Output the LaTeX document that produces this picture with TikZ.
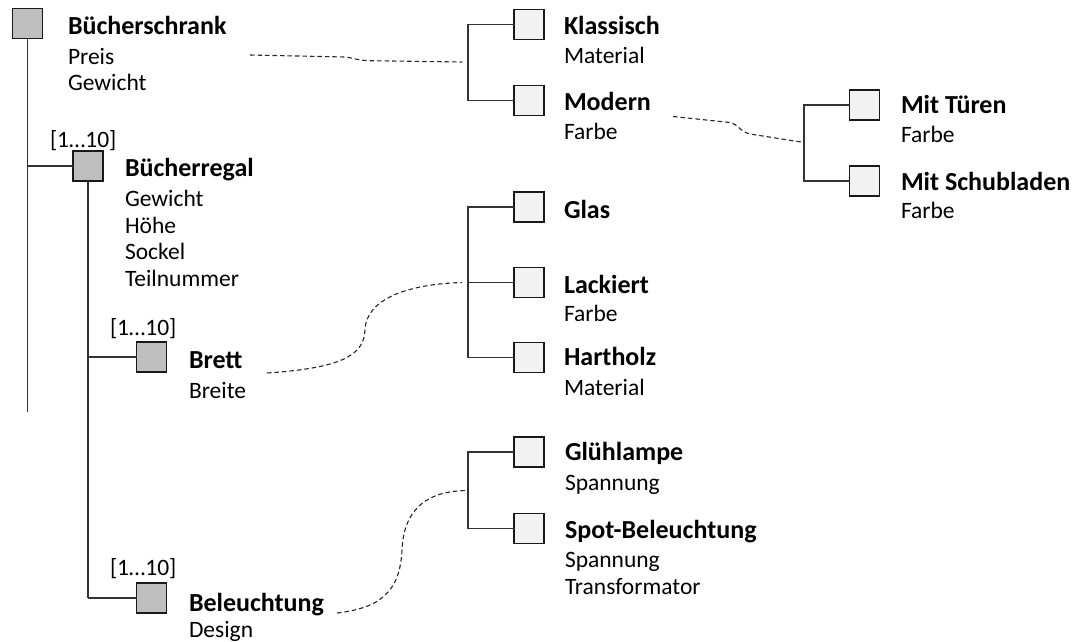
\documentclass[tikz,border=0pt]{standalone}
\usepackage{fontspec}
\setmainfont{Carlito}
\begin{document}
\begin{tikzpicture}[x=1pt, y=-1pt,
  every node/.style={inner sep=0pt, outer sep=0pt},
  txt/.style={anchor=base west, font=\fontsize{23.5}{28}\selectfont},
  ttl/.style={anchor=base west, font=\fontsize{26}{30}\selectfont\bfseries},
  cls/.style={draw=black!90, line width=1.9pt, minimum size=30pt},
  owner/.style={cls, fill=black!25},
  variant/.style={cls, fill=black!5},
  link/.style={draw=black!80, line width=1.3pt},
  ref/.style={draw=black!85, line width=1.1pt, dash pattern=on 4.5pt off 3pt}]
\useasboundingbox (0,0) rectangle (1075,641);

% ---------- composition tree ----------
\node[owner] (schrank) at (27.5,23.5) {};
\node[ttl] (tschrank) at (68,34.5) {Bücherschrank};
\node[txt] (aschrank1) at (68,64) {Preis};
\node[txt] (aschrank2) at (68,90.5) {Gewicht};
\coordinate (schrankend) at (27.5,412);

\node[owner] (regal) at (88,166) {};
\node[txt] (mregal) at (50,147) {[1…10]};
\node[ttl] (tregal) at (125,176.7) {Bücherregal};
\node[txt] (aregal1) at (125,206.7) {Gewicht};
\node[txt] (aregal2) at (125,233) {Höhe};
\node[txt] (aregal3) at (125,259.5) {Sockel};
\node[txt] (aregal4) at (125,286) {Teilnummer};
\coordinate (regalend) at (88,598);

\node[owner] (brett) at (151.5,357) {};
\node[txt] (mbrett) at (110,335) {[1…10]};
\node[ttl] (tbrett) at (189,368) {Brett};
\node[txt] (abrett1) at (189,398) {Breite};

\node[owner] (licht) at (151.5,598) {};
\node[txt] (mlicht) at (110,575) {[1…10]};
\node[ttl] (tlicht) at (189,611.7) {Beleuchtung};
\node[txt] (alicht1) at (189,637) {Design};

\draw[link] (schrank.south) -- (schrankend);
\draw[link] (schrankend |- regal.west) -- (regal.west);
\draw[link] (regal.south) -- (regalend);
\draw[link] (regalend |- brett.west) -- (brett.west);
\draw[link] (regalend) -- (licht.west);

% ---------- variants of the cabinet ----------
\node[variant] (klass) at (529,24.5) {};
\node[ttl] (tklass) at (564,34) {Klassisch};
\node[txt] (aklass1) at (564,63.3) {Material};
\node[variant] (modern) at (529,100.5) {};
\node[ttl] (tmodern) at (564,110.7) {Modern};
\node[txt] (amodern1) at (564,139.3) {Farbe};
\coordinate (jschrank) at (468,62);
\draw[link] (klass.west) -| (jschrank) |- (modern.west);

% ---------- variants of the modern cabinet ----------
\node[variant] (tueren) at (864.5,105) {};
\node[ttl] (ttueren) at (901,113) {Mit Türen};
\node[txt] (atueren1) at (901,142) {Farbe};
\node[variant] (laden) at (864.5,181) {};
\node[ttl] (tladen) at (901,190) {Mit Schubladen};
\node[txt] (aladen1) at (901,218.5) {Farbe};
\coordinate (jmodern) at (804,142.5);
\draw[link] (tueren.west) -| (jmodern) |- (laden.west);

% ---------- shelf materials ----------
\node[variant] (glas) at (529,207) {};
\node[ttl] (tglas) at (564,218) {Glas};
\node[variant] (lack) at (529,282.5) {};
\node[ttl] (tlack) at (564,293) {Lackiert};
\node[txt] (alack1) at (564,321) {Farbe};
\node[variant] (holz) at (529,357.5) {};
\node[ttl] (tholz) at (564,365) {Hartholz};
\node[txt] (aholz1) at (564,395) {Material};
\coordinate (jbrett) at (468,282.5);
\draw[link] (glas.west) -| (jbrett) |- (holz.west);
\draw[link] (jbrett) -- (lack.west);

% ---------- lighting kinds ----------
\node[variant] (gluehl) at (529,452) {};
\node[ttl] (tgluehl) at (565,460.7) {Glühlampe};
\node[txt] (agluehl1) at (565,490) {Spannung};
\node[variant] (spot) at (529,528.5) {};
\node[ttl] (tspot) at (565,538.3) {Spot-Beleuchtung};
\node[txt] (aspot1) at (565,567) {Spannung};
\node[txt] (aspot2) at (565,594) {Transformator};
\coordinate (jlicht) at (468,490.5);
\draw[link] (gluehl.west) -| (jlicht) |- (spot.west);

% ---------- dashed references ----------
\coordinate (rschrank) at (250,55);
\coordinate (rmodern) at (673,116.5);
\coordinate (rbrett) at (267,373);
\coordinate (rlicht) at (337,613);

\draw[ref] (rschrank) -- (345,57) .. controls (354,58) and (358,60.5) .. (370,60.7)
  -- ([xshift=-6pt]jschrank);
\draw[ref] (rmodern) -- (730,122.5) .. controls (738,124) and (739,131) .. (750,134)
  -- (jmodern);
\draw[ref] (rbrett) .. controls (340,368) and (364,356) .. (365,330)
  .. controls (366,298) and (410,284) .. ([xshift=-6pt]jbrett);
\draw[ref] (rlicht) .. controls (380,608) and (400,592) .. (402,550)
  .. controls (404,506) and (430,491) .. ([xshift=-1pt]jlicht);
\end{tikzpicture}
\end{document}
